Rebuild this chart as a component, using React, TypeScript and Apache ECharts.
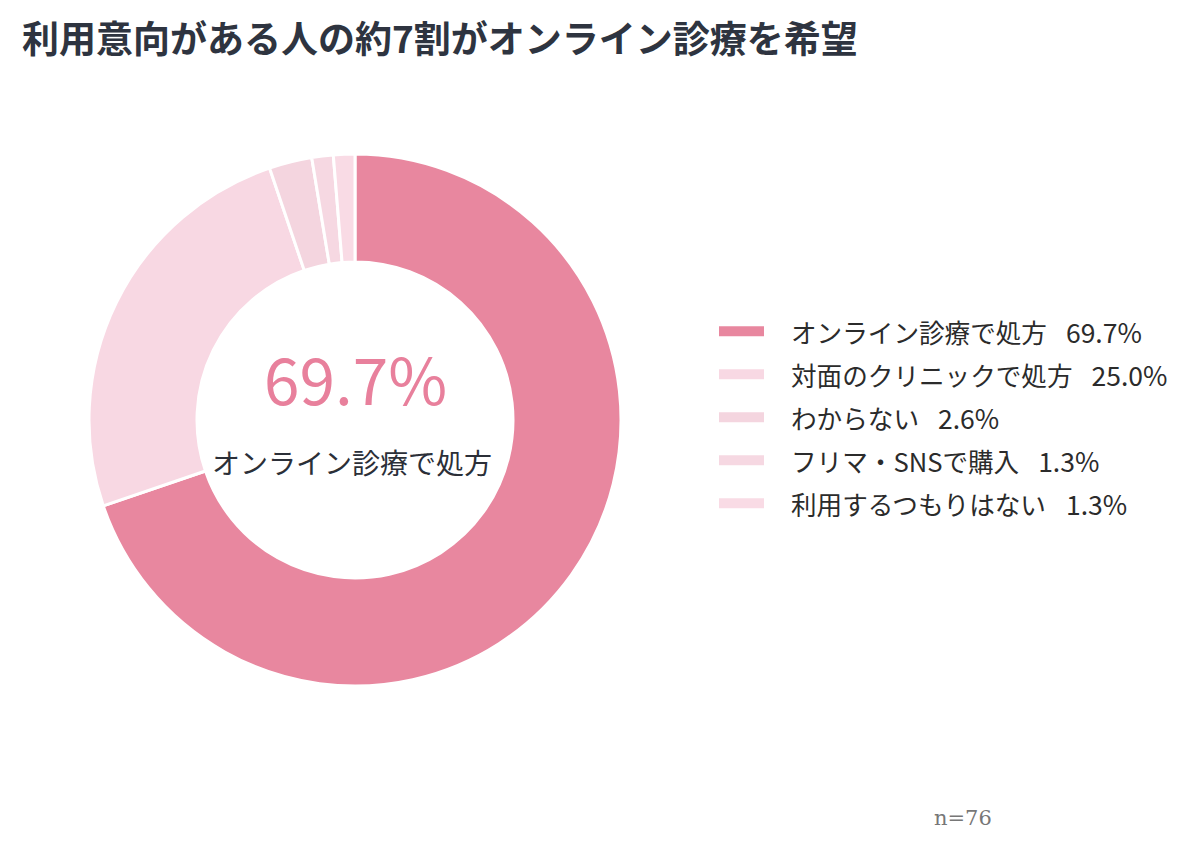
import { useEffect, useRef } from "react";
import * as echarts from "echarts";

const TITLE = "利用意向がある人の約7割がオンライン診療を希望";
const categories = ["オンライン診療で処方", "対面のクリニックで処方", "わからない", "フリマ・SNSで購入", "利用するつもりはない"];
const shares = [69.7, 25.0, 2.6, 1.3, 1.3];
const sliceColors = ["#e8879f", "#f8d8e3", "#f4d5df", "#f6d8e2", "#f9dbe5"];
const sampleNote = "n=76";

const FONT = "'Noto Sans CJK JP', 'Noto Sans', sans-serif";

function buildOption(): echarts.EChartsOption {
  const data = categories.map((name, i) => ({
    name,
    value: shares[i],
    itemStyle: { color: sliceColors[i] },
  }));

  return {
    animation: false,
    backgroundColor: "#ffffff",
    title: {
      text: TITLE,
      left: 17,
      top: 13,
      textStyle: { fontFamily: FONT, fontSize: 37, fontWeight: 700, color: "#2e3440" },
    },
    legend: {
      orient: "vertical",
      left: 717,
      top: 318,
      padding: 0,
      itemWidth: 47,
      itemHeight: 12,
      itemGap: 16.5,
      icon: "rect",
      data: categories,
      formatter: (name: string) => {
        const i = categories.indexOf(name);
        return `{n|${name}}{v|${shares[i].toFixed(1)}%}`;
      },
      textStyle: {
        fontFamily: FONT,
        fontSize: 25.6,
        lineHeight: 25,
        color: "#2b2b2b",
        padding: [0, 0, 0, 21],
        rich: {
          n: { fontFamily: FONT, fontSize: 25.6, lineHeight: 25, color: "#2b2b2b" },
          v: { fontFamily: FONT, fontSize: 26.5, lineHeight: 25, color: "#2b2b2b", padding: [0, 0, 0, 19] },
        },
      },
    },
    graphic: [
      {
        type: "text",
        left: 264,
        top: 345,
        style: {
          text: `${shares[0].toFixed(1)}%`,
          fontFamily: FONT,
          fontSize: 64,
          fill: "#e8809c",
        },
      },
      {
        type: "text",
        left: 212,
        top: 448,
        style: {
          text: categories[0],
          fontFamily: FONT,
          fontSize: 28,
          fill: "#2b2f38",
        },
      },
      {
        type: "text",
        left: 934,
        top: 807,
        style: {
          text: sampleNote,
          fontFamily: "'DejaVu Serif', 'Liberation Serif', serif",
          fontSize: 21,
          fill: "#777777",
        },
      },
    ],
    series: [
      {
        type: "pie",
        center: [355, 420],
        radius: [158, 266],
        startAngle: 90,
        clockwise: true,
        label: { show: false },
        labelLine: { show: false },
        itemStyle: { borderColor: "#ffffff", borderWidth: 3 },
        emphasis: { disabled: true },
        data,
      },
    ],
  };
}

export default function App() {
  const chartRef = useRef<HTMLDivElement>(null);

  useEffect(() => {
    if (!chartRef.current) return;
    const chart = echarts.init(chartRef.current, undefined, { renderer: "svg" });
    chart.setOption(buildOption());
    return () => chart.dispose();
  }, []);

  return (
    <div
      ref={chartRef}
      style={{ position: "absolute", left: 0, top: 0, width: 1200, height: 854 }}
    />
  );
}
